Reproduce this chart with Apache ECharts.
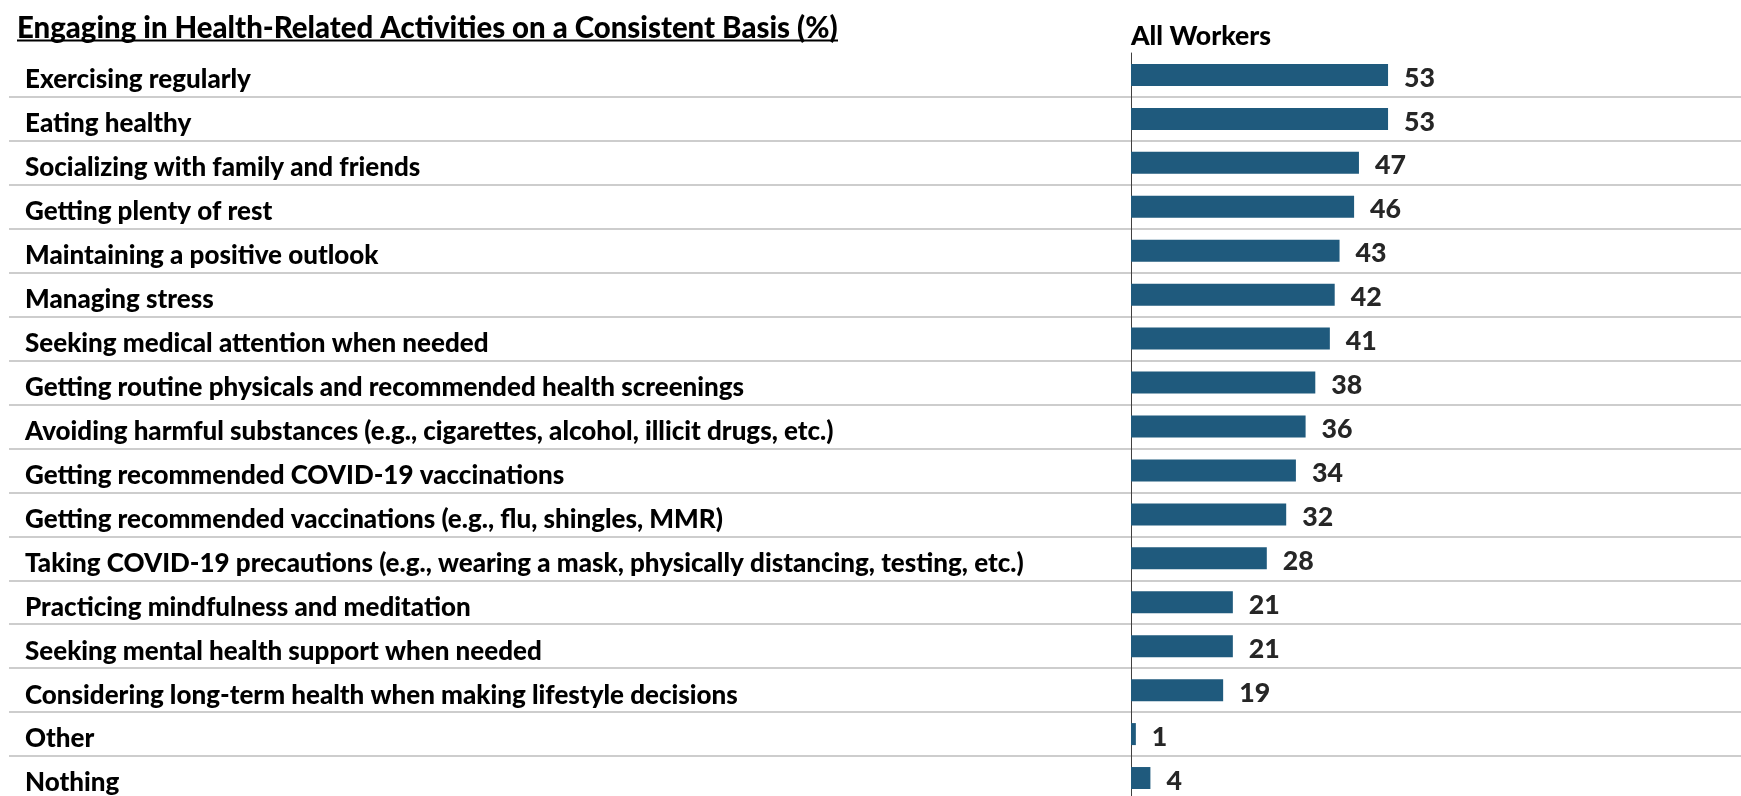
<!DOCTYPE html>
<html>
<head>
<meta charset="utf-8">
<script src="https://cdn.jsdelivr.net/npm/echarts@6/dist/echarts.min.js"></script>
<style>
  html, body { margin: 0; padding: 0; background: #fff; }
  #chart { width: 1741px; height: 796px; }
</style>
</head>
<body>
<div id="chart"></div>
<script>
var titleText = 'Engaging in Health-Related Activities on a Consistent Basis (%)';
var seriesName = 'All Workers';

var categories = [
    'Exercising regularly',
    'Eating healthy',
    'Socializing with family and friends',
    'Getting plenty of rest',
    'Maintaining a positive outlook',
    'Managing stress',
    'Seeking medical attention when needed',
    'Getting routine physicals and recommended health screenings',
    'Avoiding harmful substances (e.g., cigarettes, alcohol, illicit drugs, etc.)',
    'Getting recommended COVID-19 vaccinations',
    'Getting recommended vaccinations (e.g., flu, shingles, MMR)',
    'Taking COVID-19 precautions (e.g., wearing a mask, physically distancing, testing, etc.)',
    'Practicing mindfulness and meditation',
    'Seeking mental health support when needed',
    'Considering long-term health when making lifestyle decisions',
    'Other',
    'Nothing'
];
var values = [53, 53, 47, 46, 43, 42, 41, 38, 36, 34, 32, 28, 21, 21, 19, 1, 4];

var FONT = 'Lato';
var WEIGHT = 900;

// pick a font size so a text gets the same width as in the original
function fitFontSize(text, targetWidth) {
    var ctx = document.createElement('canvas').getContext('2d');
    ctx.font = WEIGHT + ' 100px ' + FONT;
    return 100 * targetWidth / ctx.measureText(text).width;
}

var titleSize = fitFontSize(titleText, 821);
var headerSize = fitFontSize(seriesName, 140);
var labelSize = fitFontSize(categories[11], 999);
var valueSize = fitFontSize('53', 31);

var chart = echarts.init(document.getElementById('chart'));

var options = {
    backgroundColor: '#fff',
    animation: false,
    title: [
        {
            text: titleText,
            left: 17,
            top: 29 - titleSize / 2,
            padding: 0,
            textStyle: { fontFamily: FONT, fontWeight: WEIGHT, fontSize: titleSize, color: '#000' }
        },
        {
            text: seriesName,
            left: 1131,
            top: 36 - headerSize / 2,
            padding: 0,
            textStyle: { fontFamily: FONT, fontWeight: WEIGHT, fontSize: headerSize, color: '#000' }
        }
    ],
    graphic: [
        {
            type: 'rect',
            shape: { x: 17, y: 39.5, width: 821, height: 2 },
            style: { fill: '#000' }
        }
    ],
    grid: [
        { left: 9, right: 0, top: 53, height: 747, outerBoundsMode: 'none' },
        { left: 1131, width: 485, top: 53, height: 747, outerBoundsMode: 'none' }
    ],
    xAxis: [
        { gridIndex: 0, type: 'value', min: 0, max: 1, show: false },
        { gridIndex: 1, type: 'value', min: 0, max: 100, show: false }
    ],
    yAxis: [
        {
            gridIndex: 0,
            type: 'category',
            data: categories,
            inverse: true,
            axisLine: { show: false },
            axisTick: { show: false },
            axisLabel: { show: false },
            splitLine: {
                show: true,
                showMinLine: false,
                showMaxLine: false,
                lineStyle: { color: '#bdbdbd', width: 1.5 }
            }
        },
        {
            gridIndex: 1,
            type: 'category',
            data: categories,
            inverse: true,
            axisLine: { show: true, lineStyle: { color: '#404040', width: 1 } },
            axisTick: { show: false },
            splitLine: { show: false },
            axisLabel: {
                interval: 0,
                align: 'left',
                margin: 1106,
                formatter: function (value) {
                    return '{c|' + value + '}';
                },
                rich: {
                    c: {
                        padding: [10, 0, 0, 0],
                        fontFamily: FONT,
                        fontWeight: WEIGHT,
                        fontSize: labelSize,
                        color: '#000'
                    }
                }
            }
        }
    ],
    series: [
        {
            name: seriesName,
            type: 'bar',
            xAxisIndex: 1,
            yAxisIndex: 1,
            data: values,
            barWidth: 22,
            itemStyle: { color: '#1f5a7d' },
            label: {
                show: true,
                position: 'right',
                distance: 16,
                offset: [0, 3],
                fontFamily: FONT,
                fontWeight: WEIGHT,
                fontSize: valueSize,
                color: '#262626'
            }
        }
    ]
};

chart.setOption(options);
</script>
</body>
</html>
